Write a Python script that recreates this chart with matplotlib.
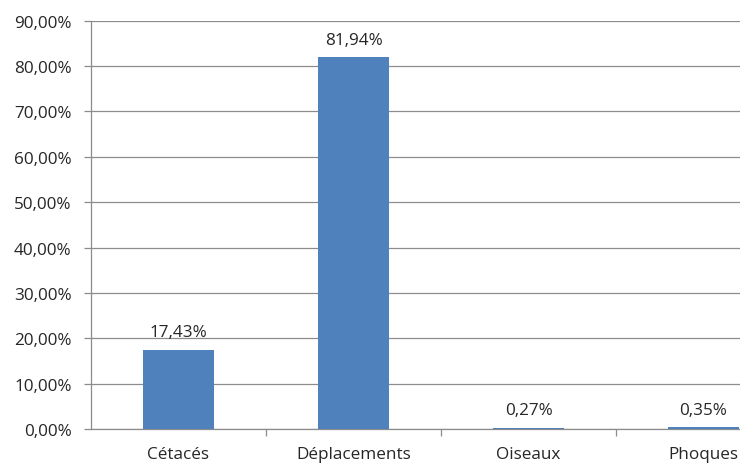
import matplotlib
matplotlib.use("Agg")
import matplotlib.pyplot as plt
from matplotlib.ticker import FuncFormatter, MultipleLocator

plt.rcParams['font.family'] = ['Open Sans', 'DejaVu Sans']

categories = ["Cétacés", "Déplacements", "Oiseaux", "Phoques"]
values = [17.43, 81.94, 0.27, 0.35]

W, H = 740, 464
fig = plt.figure(figsize=(W / 100, H / 100), dpi=100)
# axes spans past right edge, like the cropped original
left, right, top, bottom = 91, 791, 21.7, 430
ax = fig.add_axes([left / W, 1 - bottom / H, (right - left) / W, (bottom - top) / H])

bar_color = "#4F81BD"
fs = 12.3
txt_color = "#262626"
x = list(range(len(categories)))
ax.bar(x, values, width=0.405, color=bar_color, zorder=3)

for xi, v in zip(x, values):
    ax.text(xi, v + 2.1, f"{v:.2f}%".replace(".", ","), ha="center", va="bottom",
            fontsize=fs, color=txt_color)

ax.set_xlim(-0.5, len(categories) - 0.5)
ax.set_ylim(0, 90)
ax.yaxis.set_major_locator(MultipleLocator(10))
ax.yaxis.set_major_formatter(FuncFormatter(lambda v, p: f"{v:.2f}%".replace(".", ",")))
ax.grid(axis="y", color="#8c8c8c", linewidth=0.9, zorder=0)

ax.set_xticks(x)
ax.set_xticklabels(categories)
ax.set_xticks([i + 0.5 for i in x[:-1]], minor=True)
ax.tick_params(axis="x", which="major", length=0, pad=12, labelsize=fs, labelcolor=txt_color)
ax.tick_params(axis="x", which="minor", length=5, color="#8c8c8c", width=0.9)
ax.tick_params(axis="y", length=5, color="#8c8c8c", width=0.9, pad=9,
               labelsize=fs, labelcolor=txt_color)

for s in ["top", "right"]:
    ax.spines[s].set_visible(False)
ax.spines["left"].set_color("#8c8c8c")
ax.spines["bottom"].set_color("#8c8c8c")
ax.spines["left"].set_linewidth(0.9)
ax.spines["bottom"].set_linewidth(0.9)

fig.savefig("out.png", dpi=100)
